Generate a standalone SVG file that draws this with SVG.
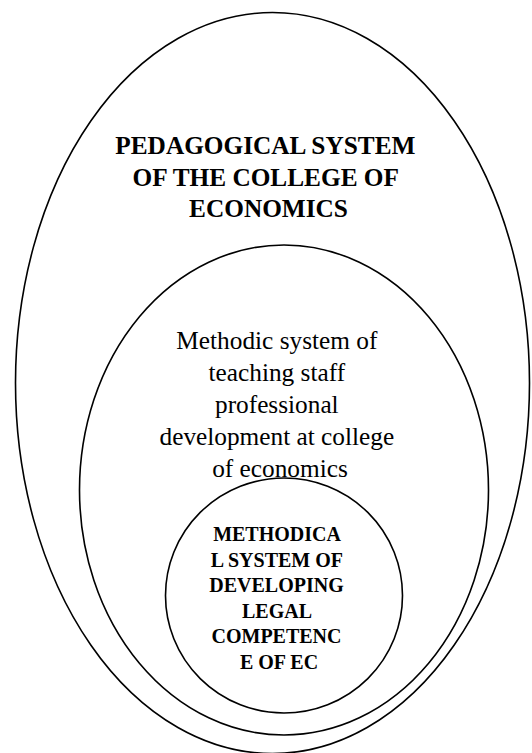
<svg xmlns="http://www.w3.org/2000/svg" width="532" height="753" viewBox="0 0 532 753">
  <style>
    .ring { fill: none; stroke: #000; stroke-width: 1.6; }
    text { font-family: 'Liberation Serif', 'Times New Roman', Times, 'DejaVu Serif', serif; fill: #000; text-anchor: middle; }
    .bold { font-weight: bold; }
  </style>
  <rect width="532" height="753" fill="#fff"/>

  <!-- Outermost level: pedagogical system -->
  <g id="pedagogical-system">
    <ellipse class="ring" cx="272.5" cy="383" rx="257" ry="370.5"/>
    <text class="bold" font-size="25.3" font-family="Liberation Serif, serif">
      <tspan x="268.5" y="154">PEDAGOGICAL SYSTEM</tspan>
      <tspan x="268.5" y="185.5">OF THE COLLEGE OF</tspan>
      <tspan x="268.5" y="217">ECONOMICS</tspan>
    </text>
  </g>

  <!-- Middle level: methodic system of staff development -->
  <g id="methodic-system">
    <ellipse class="ring" cx="284" cy="490" rx="204.5" ry="245"/>
    <text font-size="25.3" font-family="Liberation Serif, serif">
      <tspan x="280" y="349">Methodic system of</tspan>
      <tspan x="280" y="381">teaching staff</tspan>
      <tspan x="280" y="413">professional</tspan>
      <tspan x="280" y="445">development at college</tspan>
      <tspan x="280" y="477">of economics</tspan>
    </text>
  </g>

  <!-- Innermost level: legal competence system -->
  <g id="legal-competence-system">
    <ellipse class="ring" cx="284" cy="595.5" rx="118.5" ry="117.5"/>
    <text class="bold" font-size="20" font-family="Liberation Serif, serif">
      <tspan x="279" y="541">METHODICA</tspan>
      <tspan x="279" y="566.5">L SYSTEM OF</tspan>
      <tspan x="279" y="592">DEVELOPING</tspan>
      <tspan x="279" y="617.5">LEGAL</tspan>
      <tspan x="279" y="643">COMPETENC</tspan>
      <tspan x="279" y="668.5">E OF EC</tspan>
    </text>
  </g>

  <g id="connectors"/>
</svg>
